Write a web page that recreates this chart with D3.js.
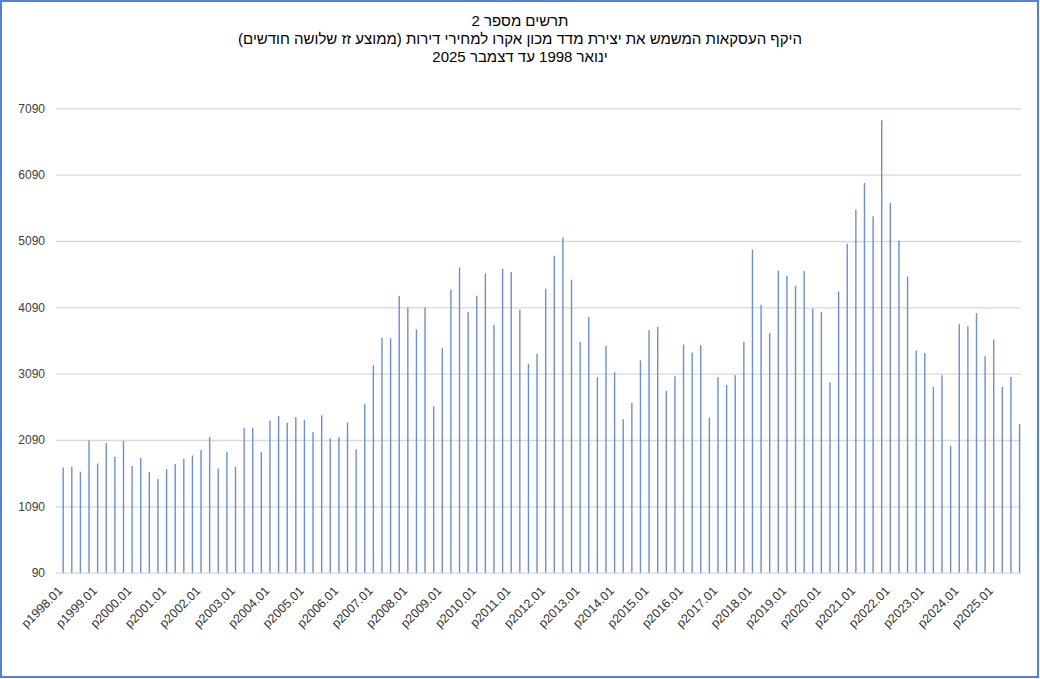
<!DOCTYPE html>
<html>
<head>
<meta charset="utf-8">
<script src="https://cdn.jsdelivr.net/npm/d3@7/dist/d3.min.js"></script>
<style>
  html, body { margin: 0; padding: 0; background: #fff; }
  svg { display: block; }
  .title { font-family: "Liberation Sans", Arial, sans-serif; font-size: 15px; fill: #000; }
  .axis text { font-family: "Liberation Sans", Arial, sans-serif; font-size: 12px; fill: #404040; }
  .xaxis text { font-size: 12.5px; fill: #333; }
</style>
</head>
<body>
<svg id="chart" width="1040" height="679"></svg>
<script>
// ---- data ----
const titleLines = [
  "תרשים מספר 2",
  "היקף העסקאות המשמש את יצירת מדד מכון אקרו למחירי דירות (ממוצע זז שלושה חודשים)",
  "ינואר 1998  עד דצמבר 2025"
];
const years = [1998,1999,2000,2001,2002,2003,2004,2005,2006,2007,2008,2009,2010,2011,
               2012,2013,2014,2015,2016,2017,2018,2019,2020,2021,2022,2023,2024,2025];
const monthCodes = ["01","02","03","04","05","06","07","08","09","10","11","12"];
// months that carry a value (3-month moving average, one bar per quarter)
const valueMonths = ["03","06","09","12"];
// values per year, for months 03, 06, 09, 12
const values = [
  1676, 1687, 1611, 2084,   // 1998
  1737, 2045, 1838, 2079,   // 1999
  1697, 1818, 1611, 1501,   // 2000
  1652, 1727, 1808, 1858,   // 2001
  1939, 2135, 1662, 1909,   // 2002
  1687, 2271, 2271, 1909,   // 2003
  2381, 2452, 2351, 2437,   // 2004
  2392, 2211, 2463, 2116,   // 2005
  2135, 2351, 1950, 2629,   // 2006
  3218, 3635, 3625, 4260,   // 2007
  4090, 3757, 4090, 2599,   // 2008
  3475, 4357, 4692, 4023,   // 2009
  4264, 4601, 3826, 4672,   // 2010
  4622, 4053, 3240, 3391,   // 2011
  4370, 4868, 5145, 4506,   // 2012
  3570, 3943, 3037, 3509,   // 2013
  3112, 2403, 2649, 3293,   // 2014
  3746, 3796, 2830, 3052,   // 2015
  3529, 3408, 3520, 2427,   // 2016
  3037, 2921, 3067, 3570,   // 2017
  4960, 4128, 3701, 4642,   // 2018
  4565, 4414, 4636, 4071,   // 2019
  4022, 2960, 4328, 5048,   // 2020
  5562, 5964, 5461, 6910,   // 2021
  5663, 5098, 4554, 3437,   // 2022
  3402, 2889, 3066, 2002,   // 2023
  3836, 3806, 4002, 3352,   // 2024
  3604, 2889, 3042, 2331    // 2025
];
const yTicks = [90, 1090, 2090, 3090, 4090, 5090, 6090, 7090];
const xTickLabels = ["p1998.01","p1999.01","p2000.01","p2001.01","p2002.01","p2003.01","p2004.01",
  "p2005.01","p2006.01","p2007.01","p2008.01","p2009.01","p2010.01","p2011.01","p2012.01",
  "p2013.01","p2014.01","p2015.01","p2016.01","p2017.01","p2018.01","p2019.01","p2020.01",
  "p2021.01","p2022.01","p2023.01","p2024.01","p2025.01"];

// ---- build table ----
const months = [];
years.forEach(y => monthCodes.forEach(m => months.push("p" + y + "." + m)));
const points = [];
years.forEach((y, yi) => valueMonths.forEach((m, mi) => {
  points.push({ cat: "p" + y + "." + m, value: values[yi * 4 + mi] });
}));

// ---- drawing ----
const svg = d3.select("#chart");
const W = 1040, H = 679;
const plot = { left: 56, right: 1021, top: 108.3, bottom: 572.7 };

svg.append("rect").attr("x", 1).attr("y", 1).attr("width", W - 3).attr("height", H - 3)
  .attr("fill", "#fff").attr("stroke", "#4f83d4").attr("stroke-width", 2);

const x = d3.scaleBand().domain(months).range([plot.left, plot.right]).paddingInner(0).paddingOuter(0);
const y = d3.scaleLinear().domain([90, 7090]).range([plot.bottom, plot.top]);

// gridlines + y labels
const yAxis = svg.append("g").attr("class", "axis")
  .attr("transform", `translate(${plot.left},0)`)
  .call(d3.axisLeft(y).tickValues(yTicks).tickSize(-(plot.right - plot.left)).tickPadding(11).tickFormat(d3.format("d")));
yAxis.select(".domain").remove();
yAxis.selectAll(".tick line").attr("stroke", "#d9d9d9").attr("stroke-width", 1.3);

// bars
const bw = 1.4;
svg.append("g").selectAll("rect").data(points).join("rect")
  .attr("x", d => x(d.cat) + x.bandwidth() / 2 - bw / 2)
  .attr("width", bw)
  .attr("y", d => y(d.value))
  .attr("height", d => y(90) - y(d.value))
  .attr("fill", "#6a90d2");

// x axis labels
const xAxis = svg.append("g").attr("class", "axis xaxis")
  .attr("transform", `translate(0,${plot.bottom})`)
  .call(d3.axisBottom(x).tickValues(xTickLabels).tickSize(0).tickPadding(0));
xAxis.select(".domain").remove();
xAxis.selectAll(".tick text")
  .attr("text-anchor", "end")
  .attr("dy", null)
  .attr("y", null)
  .attr("transform", "translate(6,19) rotate(-45)");

// title
svg.append("g").selectAll("text").data(titleLines).join("text")
  .attr("class", "title")
  .attr("x", W / 2)
  .attr("y", (d, i) => 26 + i * 18)
  .attr("text-anchor", "middle")
  .attr("direction", "rtl")
  .text(d => d);
</script>
</body>
</html>
